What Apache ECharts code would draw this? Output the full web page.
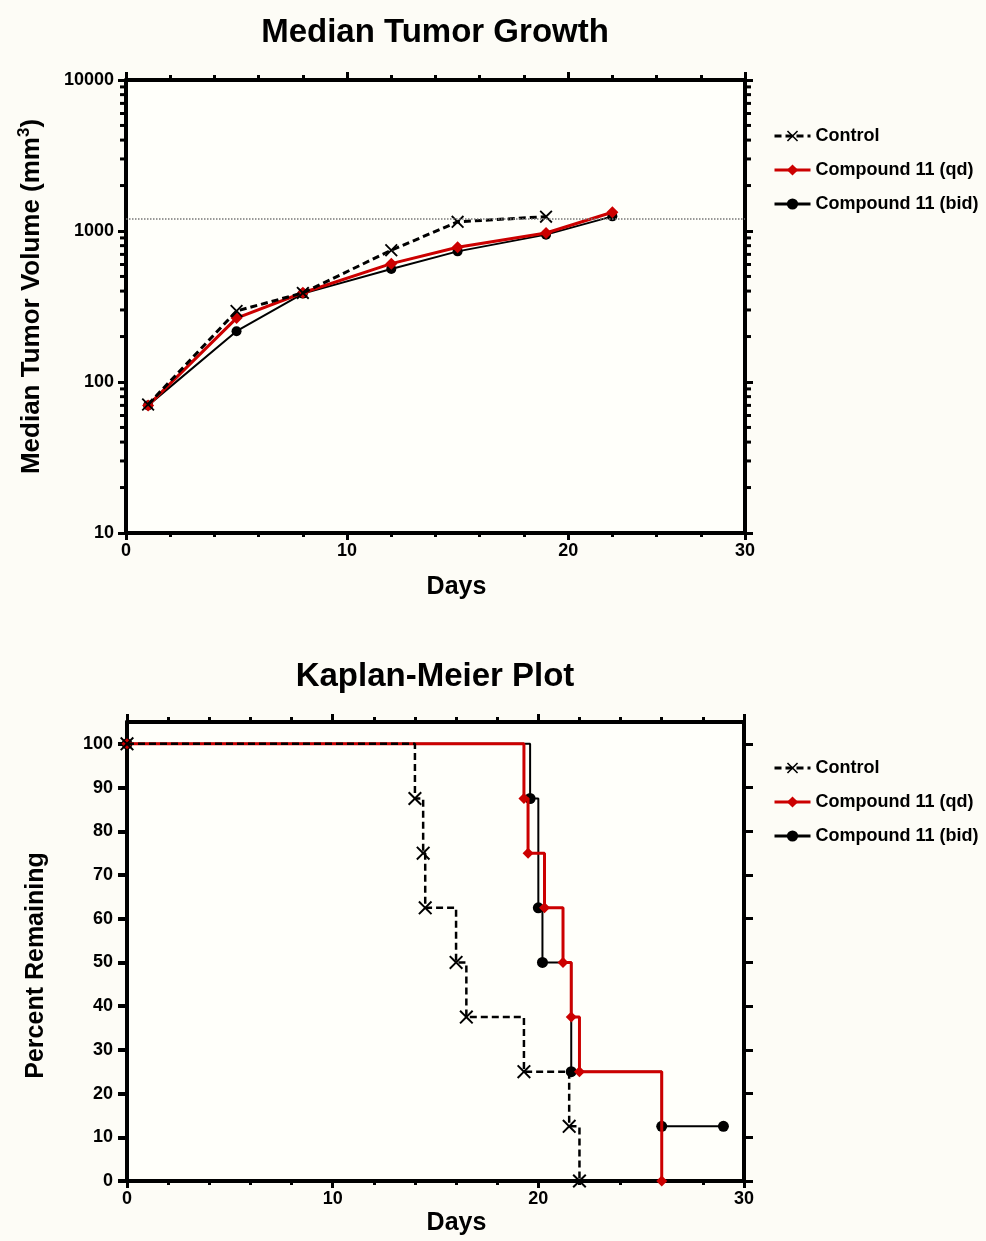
<!DOCTYPE html>
<html>
<head>
<meta charset="utf-8">
<script src="https://cdn.jsdelivr.net/npm/echarts@6/dist/echarts.min.js"></script>
<style>
html, body { margin: 0; padding: 0; background: #fdfcf6; }
#main { width: 986px; height: 1241px; }
</style>
</head>
<body>
<div id="main"></div>
<script>
// median tumor growth (log scale)
var ctrlDays = [1, 5, 8, 12, 15, 19];
var ctrlVol = [71, 295, 389, 745, 1150, 1245];
var growthDays = [1, 5, 8, 12, 15, 19, 22];
var qdVol = [70, 265, 390, 608, 780, 970, 1330];
var bidVol = [70, 217, 385, 560, 733, 946, 1250];
var volThreshold = 1200;
var logMinorTicks = [20, 30, 40, 50, 60, 70, 80, 90, 200, 300, 400, 500, 600, 700, 800, 900,
    2000, 3000, 4000, 5000, 6000, 7000, 8000, 9000];

// kaplan-meier
var kmCtrlDays = [0, 14, 14.4, 14.5, 16, 16.5, 19.3, 21.5, 22];
var kmCtrlPct = [100, 87.5, 75, 62.5, 50, 37.5, 25, 12.5, 0];
var kmQdDays = [0, 19.3, 19.5, 20.3, 21.2, 21.6, 22, 26];
var kmQdPct = [100, 87.5, 75, 62.5, 50, 37.5, 25, 0];
var kmBidDays = [0, 19.6, 20, 20.2, 21.6, 26, 29];
var kmBidPct = [100, 87.5, 62.5, 50, 25, 12.5, 12.5];
var pctTicks = [0, 10, 20, 30, 40, 50, 60, 70, 80, 90, 100];

var seriesNames = ['Control', 'Compound 11 (qd)', 'Compound 11 (bid)'];
var FONT = '"Liberation Sans", Arial, sans-serif';
var RED = '#cc0000';
var X_SYMBOL = 'path://M0,1 L1,0 L5,4 L9,0 L10,1 L6,5 L10,9 L9,10 L5,6 L1,10 L0,9 L4,5 Z';

function zip(a, b) {
    var out = [];
    for (var i = 0; i < a.length; i++) out.push([a[i], b[i]]);
    return out;
}

function tickAxis(opt) {
    // extra axes that only carry ticks (mirror sides, minor ticks)
    var ax = {
        type: 'value',
        gridIndex: opt.grid,
        position: opt.position,
        min: opt.min,
        max: opt.max,
        interval: opt.interval,
        axisLine: { show: opt.line || false, onZero: false, lineStyle: { color: '#000', width: 4 } },
        axisTick: { show: true, length: opt.len, lineStyle: { color: '#000', width: 3 } },
        axisLabel: { show: false },
        splitLine: { show: false }
    };
    if (opt.logBase) { ax.type = 'log'; ax.logBase = 10; delete ax.interval; }
    if (opt.custom) { ax.axisTick.customValues = opt.custom; }
    return ax;
}

var labelStyle = { fontFamily: FONT, fontWeight: 'bold', fontSize: 18, color: '#000' };
var nameStyle = { fontFamily: FONT, fontWeight: 'bold', fontSize: 25, color: '#000' };
var titleStyle = { fontFamily: FONT, fontWeight: 'bold', fontSize: 33, color: '#000' };
var legendText = { fontFamily: FONT, fontWeight: 'bold', fontSize: 18, color: '#000' };

var option = {
    backgroundColor: '#fdfcf6',
    animation: false,
    title: [{
        text: 'Median Tumor Growth',
        left: 430, top: 11, textAlign: 'center', textStyle: titleStyle
    }, {
        text: 'Kaplan-Meier Plot',
        left: 430, top: 655, textAlign: 'center', textStyle: titleStyle
    }],
    legend: [{
        orient: 'vertical', left: 768, top: 122,
        data: seriesNames, itemWidth: 36, itemHeight: 14, itemGap: 16,
        lineStyle: { width: 3 },
        textStyle: legendText
    }, {
        orient: 'vertical', left: 768, top: 754,
        data: seriesNames, itemWidth: 36, itemHeight: 14, itemGap: 16,
        lineStyle: { width: 3 },
        textStyle: legendText
    }],
    grid: [{
        left: 126, top: 80, width: 619, height: 453,
        show: true, backgroundColor: '#fffffa', borderWidth: 0
    }, {
        left: 127, top: 722, width: 617, height: 459,
        show: true, backgroundColor: '#fffffa', borderWidth: 0
    }],
    xAxis: [{
        type: 'value', gridIndex: 0, position: 'bottom',
        min: 0, max: 28, interval: 10,
        axisLine: { onZero: false, lineStyle: { color: '#000', width: 4 } },
        axisTick: { length: 7, lineStyle: { color: '#000', width: 3 } },
        axisLabel: Object.assign({ margin: 9, showMaxLabel: true,
            formatter: function (v) { return v === 28 ? '30' : String(v); } }, labelStyle),
        splitLine: { show: false },
        name: 'Days', nameLocation: 'middle', nameGap: 42,
        nameTextStyle: Object.assign({ padding: [0, 0, 0, 42] }, nameStyle)
    },
        tickAxis({ grid: 0, position: 'bottom', min: 0, max: 28, interval: 2, len: 4 }),
        tickAxis({ grid: 0, position: 'top', min: 0, max: 28, interval: 2, len: 5, line: true }),
        tickAxis({ grid: 0, position: 'top', min: 0, max: 28, interval: 10, len: 8 }),
    {
        type: 'value', gridIndex: 1, position: 'bottom',
        min: 0, max: 30, interval: 10,
        axisLine: { onZero: false, lineStyle: { color: '#000', width: 4 } },
        axisTick: { length: 7, lineStyle: { color: '#000', width: 3 } },
        axisLabel: Object.assign({ margin: 9 }, labelStyle),
        splitLine: { show: false },
        name: 'Days', nameLocation: 'middle', nameGap: 30,
        nameTextStyle: Object.assign({ padding: [0, 0, 0, 42] }, nameStyle)
    },
        tickAxis({ grid: 1, position: 'bottom', min: 0, max: 30, interval: 2, len: 4 }),
        tickAxis({ grid: 1, position: 'top', min: 0, max: 30, interval: 2, len: 5, line: true }),
        tickAxis({ grid: 1, position: 'top', min: 0, max: 30, interval: 10, len: 8 })
    ],
    yAxis: [{
        type: 'log', logBase: 10, gridIndex: 0, position: 'left',
        min: 10, max: 10000,
        axisLine: { onZero: false, lineStyle: { color: '#000', width: 4 } },
        axisTick: { length: 8, lineStyle: { color: '#000', width: 3 } },
        axisLabel: Object.assign({ margin: 12,
            formatter: function (v) { return String(Math.round(v)); } }, labelStyle),
        splitLine: { show: false },
        name: '{t|Median Tumor Volume (mm}{s|3}{t|)}',
        nameLocation: 'middle', nameGap: 78,
        nameTextStyle: {
            padding: [0, 0, 0, 20],
            rich: {
                t: { fontFamily: FONT, fontWeight: 'bold', fontSize: 26, color: '#000', lineHeight: 32 },
                s: { fontFamily: FONT, fontWeight: 'bold', fontSize: 17, color: '#000', verticalAlign: 'top', lineHeight: 32 }
            }
        }
    },
        tickAxis({ grid: 0, position: 'right', min: 10, max: 10000, len: 8, line: true, logBase: true }),
    {
        type: 'value', gridIndex: 1, position: 'left',
        min: 0, max: 105, interval: 10,
        axisLine: { onZero: false, lineStyle: { color: '#000', width: 4 } },
        axisTick: { length: 9, customValues: pctTicks, lineStyle: { color: '#000', width: 4 } },
        axisLabel: Object.assign({ margin: 14, customValues: pctTicks }, labelStyle),
        splitLine: { show: false },
        name: 'Percent Remaining', nameLocation: 'middle', nameGap: 78,
        nameTextStyle: Object.assign({ padding: [0, 28, 0, 0] }, nameStyle)
    },
        tickAxis({ grid: 1, position: 'right', min: 0, max: 105, interval: 10, len: 9, line: true, custom: pctTicks })
    ],
    series: [
        // top chart
        {
            name: 'Control', type: 'line', xAxisIndex: 0, yAxisIndex: 0, z: 4,
            data: zip(ctrlDays, ctrlVol),
            symbol: X_SYMBOL, symbolSize: 13,
            lineStyle: { color: '#000', width: 3, type: [7, 4] },
            itemStyle: { color: '#000' },
            markLine: {
                silent: true, symbol: 'none', label: { show: false },
                lineStyle: { color: '#777', type: 'dotted', width: 1.5 },
                data: [{ yAxis: volThreshold }]
            }
        }, {
            name: 'Compound 11 (qd)', type: 'line', xAxisIndex: 0, yAxisIndex: 0, z: 3,
            data: zip(growthDays, qdVol),
            symbol: 'diamond', symbolSize: 12,
            lineStyle: { color: RED, width: 3 },
            itemStyle: { color: RED }
        }, {
            name: 'Compound 11 (bid)', type: 'line', xAxisIndex: 0, yAxisIndex: 0, z: 2,
            data: zip(growthDays, bidVol),
            symbol: 'circle', symbolSize: 10,
            lineStyle: { color: '#000', width: 2 },
            itemStyle: { color: '#000' }
        }, {
            // minor ticks of the log axis, both sides of the box
            type: 'custom', xAxisIndex: 0, yAxisIndex: 0, silent: true, clip: false,
            data: logMinorTicks.map(function (v) { return [0, v]; }),
            encode: { x: 0, y: 1 },
            renderItem: function (params, api) {
                var l = api.coord([0, api.value(1)]);
                var r = api.coord([28, api.value(1)]);
                var st = { stroke: '#000', lineWidth: 3 };
                return {
                    type: 'group', children: [
                        { type: 'line', shape: { x1: l[0] - 6, y1: l[1], x2: l[0], y2: l[1] }, style: st },
                        { type: 'line', shape: { x1: r[0], y1: r[1], x2: r[0] + 6, y2: r[1] }, style: st }
                    ]
                };
            }
        },
        // kaplan-meier
        {
            name: 'Control', type: 'line', xAxisIndex: 4, yAxisIndex: 2, z: 4,
            step: 'end', data: zip(kmCtrlDays, kmCtrlPct),
            symbol: X_SYMBOL, symbolSize: 14,
            lineStyle: { color: '#000', width: 2.5, type: [7, 4] },
            itemStyle: { color: '#000' }
        }, {
            name: 'Compound 11 (qd)', type: 'line', xAxisIndex: 4, yAxisIndex: 2, z: 3,
            step: 'end', data: zip(kmQdDays, kmQdPct),
            symbol: 'diamond', symbolSize: 11,
            lineStyle: { color: RED, width: 3 },
            itemStyle: { color: RED }
        }, {
            name: 'Compound 11 (bid)', type: 'line', xAxisIndex: 4, yAxisIndex: 2, z: 2,
            step: 'end', data: zip(kmBidDays, kmBidPct),
            symbol: 'circle', symbolSize: 11,
            lineStyle: { color: '#000', width: 2 },
            itemStyle: { color: '#000' }
        }
    ]
};

var chart = echarts.init(document.getElementById('main'));
chart.setOption(option);
</script>
</body>
</html>
